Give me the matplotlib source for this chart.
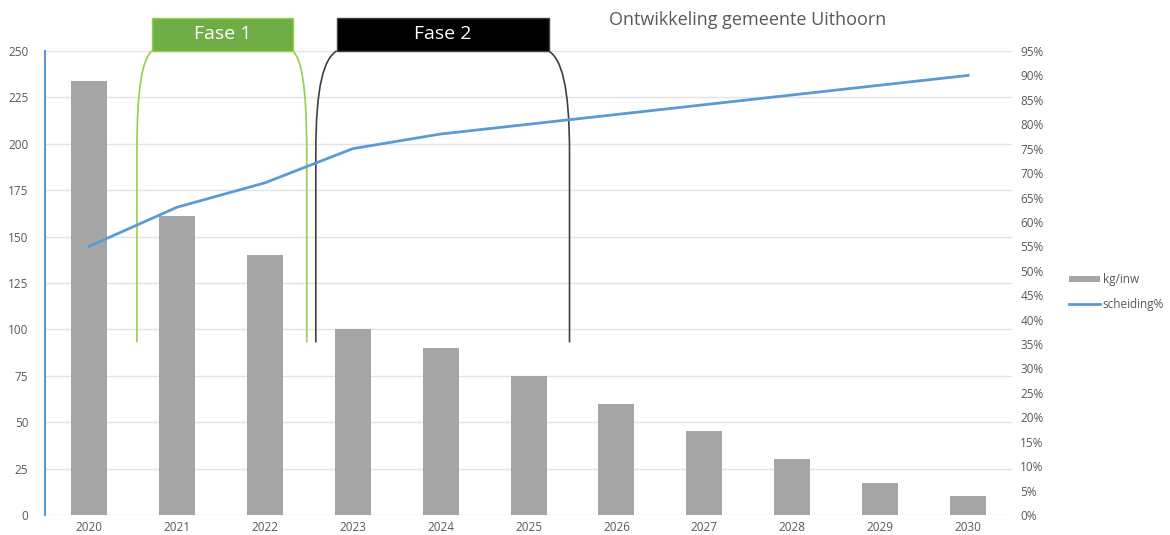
import numpy as np
import matplotlib.pyplot as plt
from matplotlib.path import Path
from matplotlib.patches import PathPatch, Rectangle

jaren = ['2020', '2021', '2022', '2023', '2024', '2025', '2026', '2027', '2028', '2029', '2030']
kg_inw = [234, 161, 140, 100, 90, 75, 60, 45, 30, 17, 10]
scheiding = [55, 63, 68, 75, 78, 80, 82, 84, 86, 88, 90]

# fasen: label, box links/rechts, haak links/rechts onder, kleur box, kleur lijn
fasen = [("Fase 1", 0.716, 2.318, 0.545, 2.477, '#70AD47', '#92D050'),
         ("Fase 2", 2.818, 5.227, 2.58, 5.466, '#000000', '#404040')]

plt.rcParams['font.family'] = ['Open Sans', 'DejaVu Sans']

fig = plt.figure(figsize=(11.7, 5.35), dpi=100)
ax = fig.add_axes([0.0385, 0.0374, 0.8265, 0.8673])
x = np.arange(len(jaren))

ax.bar(x, kg_inw, width=0.41, color='#A5A5A5', zorder=2)
ax.set_xlim(-0.5, len(jaren) - 0.5)
ax.set_ylim(0, 250)
ax.set_yticks(np.arange(0, 251, 25))
ax.set_xticks(x)
ax.set_xticklabels(jaren)
ax.grid(axis='y', color='#E3E3E3', lw=1, zorder=0)
for s in ['top', 'right', 'bottom']:
    ax.spines[s].set_visible(False)
ax.spines['left'].set_color('#5B9BD5')
ax.spines['left'].set_linewidth(1.5)
ax.tick_params(length=0, labelsize=8.5, colors='#595959')
ax.tick_params(axis='x', pad=4)
ax.tick_params(axis='y', pad=12)

ax2 = ax.twinx()
ax2.plot(x, scheiding, color='#5B9BD5', lw=2, zorder=3)
ax2.set_ylim(0, 95)
ax2.set_yticks(np.arange(0, 96, 5))
ax2.set_yticklabels([f"{v}%" for v in range(0, 96, 5)])
for s in ax2.spines.values():
    s.set_visible(False)
ax2.tick_params(length=0, labelsize=8.5, colors='#595959', pad=6)

# fase-haken
for label, lt, rt, lb, rb, kleur, lijn in fasen:
    for xt, xb in [(lt, lb), (rt, rb)]:
        p = Path([(xt, 250), (xt + 0.6 * (xb - xt), 246), (xb, 232), (xb, 195), (xb, 93)],
                 [Path.MOVETO, Path.CURVE4, Path.CURVE4, Path.CURVE4, Path.LINETO])
        ax.add_patch(PathPatch(p, fill=False, ec=lijn, lw=1.2, zorder=4, clip_on=False))
    ax.add_patch(Rectangle((lt, 250), rt - lt, 18, fc=kleur,
                           ec=lijn, lw=1, zorder=5, clip_on=False))
    ax.text((lt + rt) / 2, 259, label, ha='center', va='center',
            color='white', fontsize=14, zorder=6)

fig.text(0.639, 0.962, "Ontwikkeling gemeente Uithoorn", ha='center', va='center',
         fontsize=13, color='#595959')

h1 = Rectangle((0, 0), 1, 1, fc='#A5A5A5')
h2 = plt.Line2D([0], [0], color='#5B9BD5', lw=2)
fig.legend([h1, h2], ['kg/inw', 'scheiding%'], loc='center left',
           bbox_to_anchor=(0.905, 0.454), frameon=False, fontsize=8.5,
           labelcolor='#595959', handlelength=2.6, handleheight=0.4,
           handletextpad=0.2, labelspacing=1.0)

fig.savefig('out.png', dpi=100)
